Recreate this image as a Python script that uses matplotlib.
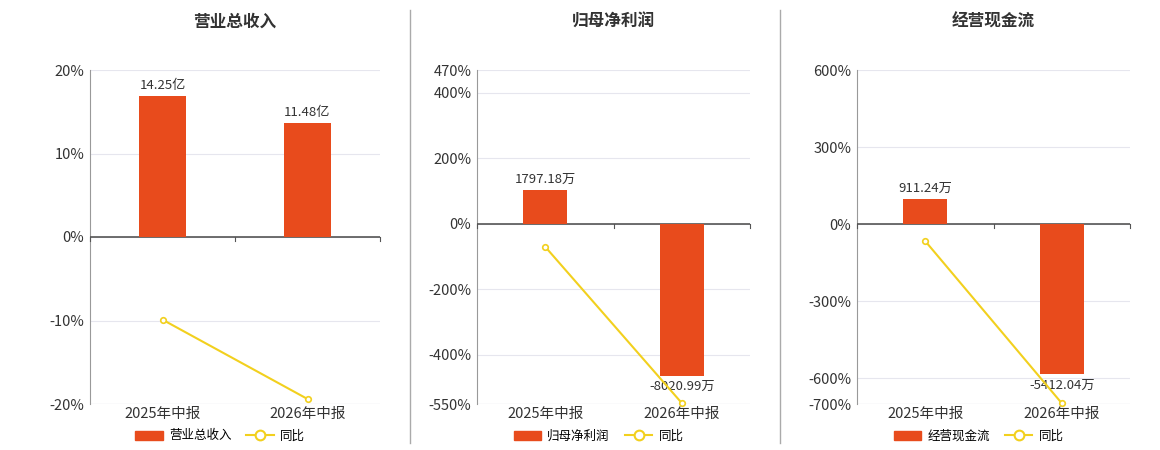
import matplotlib
matplotlib.use("Agg")
import matplotlib.pyplot as plt
from matplotlib.patches import Patch
from matplotlib.lines import Line2D

plt.rcParams['font.family'] = ['Noto Sans CJK SC', 'DejaVu Sans']

categories = ["2025年中报", "2026年中报"]
titles = ["营业总收入", "归母净利润", "经营现金流"]
bar_values = [[14.25, 11.48], [1797.18, -8020.99], [911.24, -5412.04]]
bar_labels = [["14.25亿", "11.48亿"], ["1797.18万", "-8020.99万"], ["911.24万", "-5412.04万"]]
yoy_values = [[-9.9, -19.4], [-70, -547], [-66, -697]]
ylims = [(-20, 20), (-550, 470), (-700, 600)]
yticks = [[-20, -10, 0, 10, 20], [-550, -400, -200, 0, 200, 400, 470], [-700, -600, -300, 0, 300, 600]]
scale = [0.843, 17.3, 9.25]

BAR = "#E84B1C"
LINE = "#F2D01E"

fig = plt.figure(figsize=(11.6, 4.5), dpi=100)
lefts = [90, 477, 857]
widths = [290, 273, 273]
for i in range(3):
    ax = fig.add_axes([lefts[i]/1160, 46/450, widths[i]/1160, 334/450])
    lo, hi = ylims[i]
    ax.set_ylim(lo, hi)
    ax.set_xlim(-0.5, 1.5)
    ax.set_yticks(yticks[i])
    ax.set_yticklabels([f"{t}%" for t in yticks[i]], fontsize=10.5, color="#333333")
    ax.grid(axis='y', color="#E6E6EE", lw=0.8)
    ax.set_axisbelow(True)
    for s in ['top', 'right', 'bottom']:
        ax.spines[s].set_visible(False)
    ax.spines['left'].set_color("#999999")
    ax.tick_params(axis='y', length=0, pad=4)
    ax.tick_params(axis='x', length=0, labelsize=10.5, colors="#333333", pad=2)
    ax.set_xticks([0, 1])
    ax.set_xticklabels(categories)
    # bottom baseline + zero line
    ax.axhline(lo, color="#CCCCCC", lw=0.8)
    ax.axhline(0, color="#555555", lw=1.2, zorder=3)
    for xb in [-0.5, 0.5, 1.5]:
        ax.plot([xb, xb], [0, -(hi-lo)*0.012], color="#555555", lw=0.8, clip_on=False, zorder=3)
    ax2 = ax.twinx()
    ax2.set_ylim(lo*scale[i], hi*scale[i])
    ax2.axis('off')
    ax2.bar([0, 1], bar_values[i], width=0.32, color=BAR, zorder=2)
    for x, v, lab in zip([0, 1], bar_values[i], bar_labels[i]):
        off = (hi-lo)*scale[i]*0.012
        ax2.text(x, v + off if v >= 0 else v - off, lab, ha='center',
                 va='bottom' if v >= 0 else 'top', fontsize=9.5, color="#333333")
    ax3 = ax.twinx()
    ax3.set_ylim(lo, hi)
    ax3.axis('off')
    ax3.plot([0, 1], yoy_values[i], color=LINE, lw=1.5, marker='o', ms=4,
             mfc='white', mec=LINE, mew=1.2, zorder=4, clip_on=False)
    ax.set_title(titles[i], fontsize=12, fontweight='bold', color="#333333", y=1.0, pad=0)
    ax.title.set_position((0.5, 1.0))
    fig.text((lefts[i] + widths[i]/2)/1160, 428/450, titles[i], ha='center', va='center',
             fontsize=12, fontweight='bold', color="#333333")
    ax.set_title("")
    handles = [Patch(color=BAR), Line2D([], [], color=LINE, lw=1.5, marker='o', ms=7, mfc='white', mec=LINE, mew=1.5)]
    fig.legend(handles, [titles[i], "同比"], loc='center',
               bbox_to_anchor=((lefts[i] + widths[i]/2 - 15)/1160, 14/450), ncol=2, frameon=False,
               fontsize=9, handlelength=2.2, columnspacing=1.2, handletextpad=0.5)

for xs in [410, 780]:
    fig.add_artist(Line2D([xs/1160, xs/1160], [7/450, 440/450], color="#AAAAAA", lw=1))

fig.savefig("out.png", dpi=100)
